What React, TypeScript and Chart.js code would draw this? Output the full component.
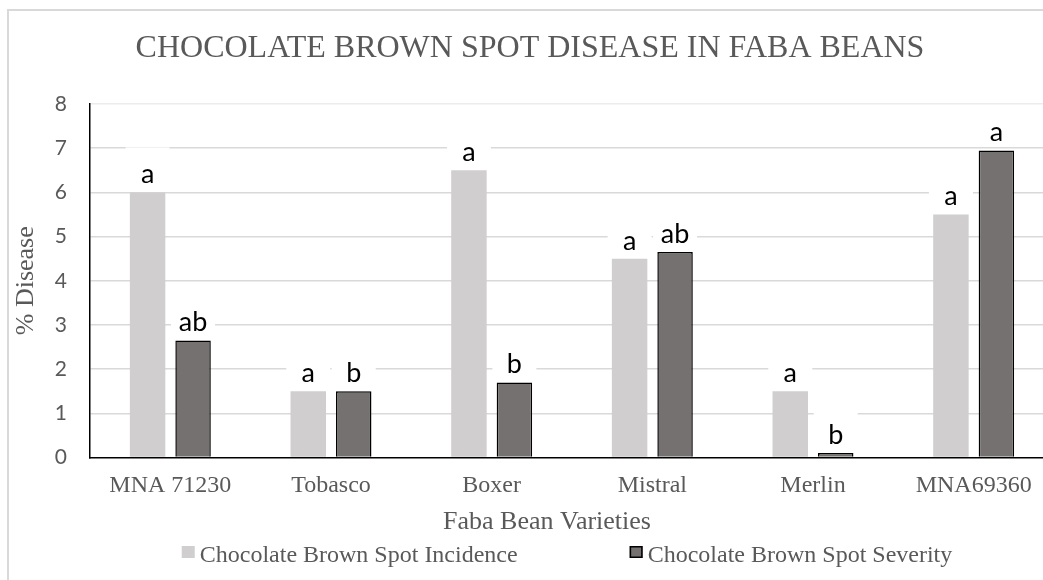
import React, { useEffect, useRef } from "react";
import { Chart, registerables } from "chart.js";

Chart.register(...registerables);

// ---- data ----
const categories = ["MNA 71230", "Tobasco", "Boxer", "Mistral", "Merlin", "MNA69360"];
const incidence = [6, 1.5, 6.5, 4.5, 1.5, 5.5];
const severity = [2.65, 1.5, 1.7, 4.65, 0.1, 6.95];
const incidenceLetters = ["a", "a", "a", "a", "a", "a"];
const severityLetters = ["ab", "b", "b", "ab", "b", "a"];
const seriesNames = ["Chocolate Brown Spot Incidence", "Chocolate Brown Spot Severity"];
const yMin = 0;
const yMax = 8;
const yStep = 1;
const chartTitle = "CHOCOLATE BROWN SPOT DISEASE IN FABA BEANS";
const xTitle = "Faba Bean Varieties";
const yTitle = "% Disease";

const SERIF = '"Liberation Serif", "Times New Roman", serif';
const SANS = 'Lato, "Open Sans", sans-serif';
const TEXT_GRAY = "#595959";
const INC_COLOR = "#d0cece";
const SEV_COLOR = "#767171";

const annotationsPlugin = {
  id: "annotations",
  afterDatasetsDraw(chart: any) {
    const ctx = chart.ctx;
    const letters = [incidenceLetters, severityLetters];
    ctx.save();
    const items: { x: number; base: number; t: string }[] = [];
    chart.data.datasets.forEach((_: any, di: number) => {
      const meta = chart.getDatasetMeta(di);
      meta.data.forEach((el: any, i: number) => {
        items.push({ x: el.x, base: el.y - 9, t: letters[di][i] });
      });
    });
    // white label boxes (hide gridlines behind letters)
    ctx.fillStyle = "#ffffff";
    items.forEach((it) => ctx.fillRect(it.x - 22, it.base - 36, 44, 40));
    ctx.fillStyle = "#000000";
    ctx.font = `27px ${SANS}`;
    ctx.textAlign = "center";
    ctx.textBaseline = "alphabetic";
    items.forEach((it) => ctx.fillText(it.t, it.x, it.base));
    ctx.restore();
  },
  afterDraw(chart: any) {
    const ctx = chart.ctx;
    ctx.save();
    ctx.fillStyle = TEXT_GRAY;
    ctx.textBaseline = "alphabetic";
    ctx.textAlign = "center";
    // title
    ctx.font = `32px ${SERIF}`;
    ctx.fillText(chartTitle, 521, 46);
    // x axis title
    ctx.font = `26px ${SERIF}`;
    ctx.fillText(xTitle, 538, 518);
    // legend
    ctx.font = `24px ${SERIF}`;
    ctx.textAlign = "left";
    const boxW = 13;
    const boxH = 12;
    const textGap = 5;
    const itemGap = 112;
    const ds = chart.data.datasets;
    const widths = ds.map((d: any) => boxW + textGap + ctx.measureText(d.label).width);
    const total = widths.reduce((a: number, b: number) => a + b, 0) + itemGap * (ds.length - 1);
    let x = 558 - total / 2;
    ds.forEach((d: any, i: number) => {
      ctx.fillStyle = d.backgroundColor;
      ctx.fillRect(x, 535, boxW, boxH);
      if (d.borderWidth) {
        ctx.strokeStyle = d.borderColor;
        ctx.lineWidth = 1.5;
        ctx.strokeRect(x + 0.75, 535.75, boxW - 1.5, boxH - 1.5);
      }
      ctx.fillStyle = TEXT_GRAY;
      ctx.fillText(d.label, x + boxW + textGap, 550.7);
      x += widths[i] + itemGap;
    });
    ctx.restore();
  },
};

export default function App() {
  const canvasRef = useRef<HTMLCanvasElement | null>(null);

  useEffect(() => {
    if (!canvasRef.current) return;
    const chart = new Chart(canvasRef.current, {
      type: "bar",
      data: {
        labels: categories,
        datasets: [
          {
            label: seriesNames[0],
            data: incidence,
            backgroundColor: INC_COLOR,
            borderWidth: 0,
            barPercentage: 0.78,
            categoryPercentage: 0.566,
          },
          {
            label: seriesNames[1],
            data: severity,
            backgroundColor: SEV_COLOR,
            borderColor: "#000000",
            borderWidth: 1.5,
            barPercentage: 0.78,
            categoryPercentage: 0.566,
          },
        ],
      },
      options: {
        responsive: false,
        animation: false,
        devicePixelRatio: 1,
        layout: { padding: { left: 0, right: 15, top: 93, bottom: 62.5 } },
        plugins: {
          legend: { display: false },
          title: { display: false },
          tooltip: { enabled: false },
        },
        scales: {
          x: {
            grid: { display: false, drawTicks: false },
            border: { display: true, color: "#000000", width: 1.5 },
            ticks: {
              font: { family: SERIF, size: 24 },
              color: TEXT_GRAY,
              padding: 14,
              maxRotation: 0,
              autoSkip: false,
            },
            afterFit: (s: any) => {
              s.height = 60;
            },
          },
          y: {
            min: yMin,
            max: yMax,
            ticks: {
              stepSize: yStep,
              font: { family: SANS, size: 21 },
              color: TEXT_GRAY,
              padding: 23,
            },
            grid: {
              drawTicks: false,
              lineWidth: 1.5,
              color: (c: any) =>
                c.tick && c.tick.value === yMin
                  ? "rgba(0,0,0,0)"
                  : c.tick && c.tick.value === yMax
                  ? "#ececec"
                  : "#d9d9d9",
            },
            border: { display: true, color: "#000000", width: 1.5 },
            title: {
              display: true,
              text: yTitle,
              font: { family: SERIF, size: 26 },
              color: TEXT_GRAY,
              padding: { top: 2, bottom: 0 },
            },
            afterFit: (s: any) => {
              s.width = 81;
            },
          },
        },
      },
      plugins: [annotationsPlugin],
    } as any);
    return () => chart.destroy();
  }, []);

  return (
    <div
      style={{
        position: "fixed",
        left: 0,
        top: 0,
        width: 1043,
        height: 580,
        overflow: "hidden",
        background: "#ffffff",
      }}
    >
      <div
        style={{
          position: "absolute",
          left: 7,
          top: 9,
          width: 1200,
          height: 700,
          border: "2px solid #d9d9d9",
          boxSizing: "content-box",
        }}
      >
        <canvas
          ref={canvasRef}
          width={1060}
          height={569}
          style={{ display: "block", width: 1060, height: 569 }}
        />
      </div>
    </div>
  );
}
